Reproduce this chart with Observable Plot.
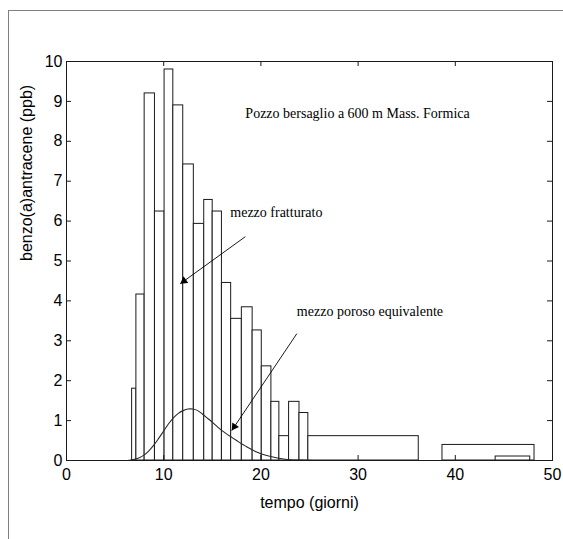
<!DOCTYPE html>
<html><head><meta charset="utf-8">
<script src="https://cdn.jsdelivr.net/npm/d3@7"></script>
<script src="https://cdn.jsdelivr.net/npm/@observablehq/plot@0.6"></script>
<style>
html,body{margin:0;padding:0;background:#fff;}
#wrap{position:relative;width:563px;height:539px;overflow:hidden;}
#border{position:absolute;left:8px;top:10px;width:700px;height:700px;border-left:1px solid #808080;border-top:1px solid #808080;}
#chart{position:absolute;left:0;top:0;}
</style></head><body>
<div id="wrap"><div id="border"></div><div id="chart"></div></div>
<script>
// Histogram bins: start, end (days), height (ppb)
const binStart  = [6.75, 7.19, 8.04, 9.10, 10.09, 10.99, 12.01, 13.10, 14.17, 15.04, 15.99, 16.94, 18.04, 19.15, 20.09, 21.08, 21.90, 22.90, 23.97, 24.88, 38.68, 44.15];
const binEnd    = [7.19, 8.04, 9.10, 10.09, 10.99, 12.01, 13.10, 14.17, 15.04, 15.99, 16.94, 18.04, 19.15, 20.09, 21.08, 21.90, 22.90, 23.97, 24.88, 36.24, 48.15, 47.71];
const binHeight = [1.80, 4.16, 9.20, 6.24, 9.80, 8.90, 7.42, 5.93, 6.53, 6.24, 4.45, 3.55, 3.84, 3.26, 2.36, 1.47, 0.61, 1.47, 1.19, 0.61, 0.39, 0.10];

// Equivalent porous medium curve
const curveT = [6.3, 7, 7.5, 8, 8.5, 9, 9.5, 10, 10.5, 11, 11.5, 12, 12.5, 13, 13.5, 14, 14.5, 15, 15.5, 16, 16.5, 17, 17.5, 18, 18.5, 19, 19.5, 20, 20.5, 21, 22, 23, 24, 25.5];
const curveC = [0, 0.03, 0.07, 0.14, 0.25, 0.39, 0.56, 0.74, 0.92, 1.07, 1.18, 1.25, 1.29, 1.29, 1.25, 1.16, 1.06, 0.96, 0.85, 0.75, 0.66, 0.58, 0.50, 0.42, 0.35, 0.28, 0.22, 0.17, 0.13, 0.10, 0.05, 0.02, 0.01, 0];

const xTicks = [0, 10, 20, 30, 40, 50];
const yTicks = [0, 1, 2, 3, 4, 5, 6, 7, 8, 9, 10];

// Annotations
const labels = [
  {x: 18.4, y: 8.7, text: "Pozzo bersaglio a 600 m Mass. Formica"},
  {x: 16.85, y: 6.22, text: "mezzo fratturato"},
  {x: 23.7, y: 3.74, text: "mezzo poroso equivalente"}
];
const arrows = [
  {x1: 18.4, y1: 5.61, x2: 11.7, y2: 4.43},
  {x1: 23.7, y1: 3.18, x2: 17.0, y2: 0.75}
];

const W = 563, H = 539, ML = 66, MR = 11, MT = 61, MB = 79;
const xDom = [0, 50], yDom = [0, 10];
const kx = (W - ML - MR) / (xDom[1] - xDom[0]);
const ky = (H - MT - MB) / (yDom[1] - yDom[0]);

const bins = binStart.map((s, i) => ({x1: s, x2: binEnd[i], h: binHeight[i]}));
const curve = curveT.map((t, i) => ({t, c: curveC[i]}));

// arrow heads: filled triangles pointing along each arrow
const R = 3;
const tipBack = 2 * Math.sqrt(R * R * Math.PI / (3 * Math.sqrt(3)));
const heads = arrows.map(a => {
  const dx = (a.x2 - a.x1) * kx, dy = -(a.y2 - a.y1) * ky;
  const len = Math.hypot(dx, dy);
  const ux = dx / len, uy = dy / len;
  const rot = Math.atan2(ux, -uy) * 180 / Math.PI;
  return {x: a.x2 - ux * tipBack / kx, y: a.y2 + uy * tipBack / ky, rot};
});

const tickLx = 5 / kx, tickLy = 5 / ky;

const plot = Plot.plot({
  width: W, height: H,
  marginLeft: ML, marginRight: MR, marginTop: MT, marginBottom: MB,
  style: {background: "transparent", color: "#000", fontFamily: "'Liberation Sans', Arial, sans-serif"},
  x: {domain: xDom},
  y: {domain: yDom},
  marks: [
    Plot.rect(bins, {x1: "x1", x2: "x2", y1: 0, y2: "h", fill: "white", stroke: "#1a1a1a", strokeWidth: 1}),
    Plot.line(curve, {x: "t", y: "c", stroke: "#2a2a2a", strokeWidth: 1.1, curve: "catmull-rom"}),
    Plot.frame({stroke: "#1a1a1a", strokeWidth: 1}),
    // inward ticks
    Plot.ruleX(xTicks, {x: d => d, y1: 0, y2: tickLy, stroke: "#1a1a1a"}),
    Plot.ruleX(xTicks, {x: d => d, y1: 10 - tickLy, y2: 10, stroke: "#1a1a1a"}),
    Plot.ruleY(yTicks, {y: d => d, x1: 0, x2: tickLx, stroke: "#1a1a1a"}),
    Plot.ruleY(yTicks, {y: d => d, x1: 50 - tickLx, x2: 50, stroke: "#1a1a1a"}),
    Plot.axisX(xTicks, {tickSize: 0, tickPadding: 8, fontSize: 16, label: null}),
    Plot.axisY(yTicks, {tickSize: 0, tickPadding: 4, fontSize: 16, label: null}),
    Plot.text(["tempo (giorni)"], {frameAnchor: "bottom", dy: 47, fontSize: 16, fill: "#000"}),
    Plot.text(["benzo(a)antracene (ppb)"], {frameAnchor: "left", dx: -40, rotate: -90, fontSize: 16, fill: "#000"}),
    Plot.text(labels, {x: "x", y: "y", text: "text", textAnchor: "start", fontFamily: "Liberation Serif", fontSize: 14, fill: "#000"}),
    Plot.link(arrows, {x1: "x1", y1: "y1", x2: "x2", y2: "y2", stroke: "#000", strokeWidth: 0.9}),
    Plot.dot(heads, {x: "x", y: "y", symbol: "triangle", r: R, fill: "#000", stroke: null, rotate: "rot"})
  ]
});
document.getElementById("chart").appendChild(plot);
</script>
</body></html>
